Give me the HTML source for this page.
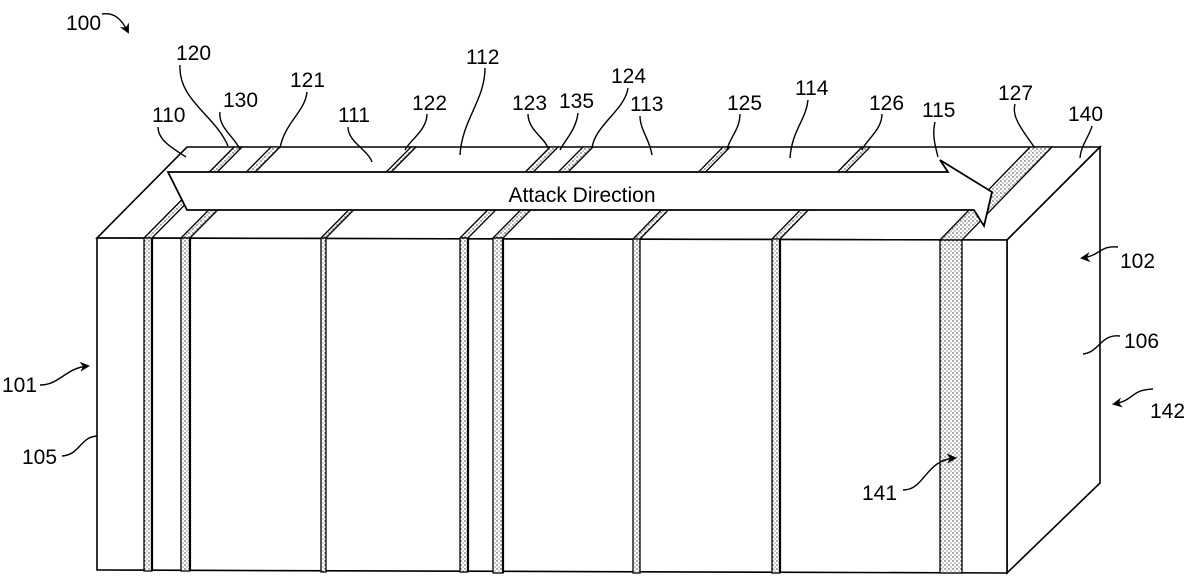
<!DOCTYPE html>
<html><head><meta charset="utf-8"><style>
html,body{margin:0;padding:0;background:#fff;}
svg{display:block;}
text{font-family:"Liberation Sans",sans-serif;font-size:21px;fill:#000;}
</style></head><body>
<svg width="1200" height="581" viewBox="0 0 1200 581" xmlns="http://www.w3.org/2000/svg">
<defs>
<pattern id="dots" width="4" height="4" patternUnits="userSpaceOnUse">
<rect width="4" height="4" fill="#fff"/>
<circle cx="1" cy="1" r="0.7" fill="#333"/>
<circle cx="3" cy="3" r="0.6" fill="#555"/>
</pattern>
<marker id="ah" markerWidth="10" markerHeight="10" refX="8" refY="5" orient="auto" markerUnits="userSpaceOnUse">
<path d="M0,0 L10,5 L0,10 L3,5 Z" fill="#000"/>
</marker>
</defs>
<g stroke="#000" stroke-width="1.6" fill="#fff" stroke-linejoin="miter">
<polygon points="97,238 187,147 1100,147 1007,240"/>
<polygon points="1007,240 1100,147 1100,483 1007,573"/>
<polygon points="97,238 1007,240 1007,573 97,570"/>
</g>
<g stroke="#000" stroke-width="1.3" fill="url(#dots)">
<polygon points="144,238 152,238 242,147 234,147"/>
<polygon points="181,238 190,238 280,147 271,147"/>
<polygon points="321,238 326,238 416,147 411,147"/>
<polygon points="460,238 468,238 558,147 550,147"/>
<polygon points="493,238 503,238 593,147 583,147"/>
<polygon points="633,239 640,239 730,147 723,147"/>
<polygon points="772,239 780,239 870,147 862,147"/>
<polygon points="940,240 962,240 1052,147 1030,147"/>
</g>
<g stroke="#000" stroke-width="1.3" fill="url(#dots)">
<rect x="144" y="238" width="8" height="333"/>
<rect x="181" y="238" width="9" height="333"/>
<rect x="321" y="238" width="5" height="334"/>
<rect x="460" y="238" width="8" height="334"/>
<rect x="493" y="238" width="10" height="335"/>
<rect x="633" y="239" width="7" height="334"/>
<rect x="772" y="239" width="8" height="334"/>
<rect x="940" y="240" width="22" height="333"/>
</g>
<g stroke="#000" stroke-width="2.2">
<line x1="152" y1="238" x2="152" y2="571"/><line x1="190" y1="238" x2="190" y2="571"/>
<line x1="468" y1="238" x2="468" y2="572"/><line x1="503" y1="238" x2="503" y2="573"/>
<line x1="780" y1="239" x2="780" y2="573"/>
</g>
<polygon points="168,172 948,172 940,160 992,192 984,226 974,210 187,210" fill="#fff" stroke="#000" stroke-width="1.8" stroke-linejoin="miter"/>
<text x="582" y="202" text-anchor="middle">Attack Direction</text>
<g>
<text x="66" y="30">100</text>
<text x="176" y="60">120</text>
<text x="223" y="107">130</text>
<text x="290" y="87">121</text>
<text x="152" y="122">110</text>
<text x="338" y="122">111</text>
<text x="412" y="110">122</text>
<text x="466" y="64">112</text>
<text x="512" y="110">123</text>
<text x="559" y="108">135</text>
<text x="611" y="83">124</text>
<text x="630" y="111">113</text>
<text x="727" y="110">125</text>
<text x="795" y="95">114</text>
<text x="869" y="110">126</text>
<text x="922" y="117">115</text>
<text x="998" y="100">127</text>
<text x="1068" y="121">140</text>
<text x="1120" y="268">102</text>
<text x="1124" y="348">106</text>
<text x="1150" y="418">142</text>
<text x="2" y="392">101</text>
<text x="22" y="464">105</text>
<text x="862" y="500">141</text>
</g>
<g stroke="#000" stroke-width="1.4" fill="none">
<path d="M102,14 C115,12 122,20 128,32" marker-end="url(#ah)"/>
<path d="M180,65 C178,100 215,115 228,146"/>
<path d="M220,112 C218,128 236,138 240,150"/>
<path d="M307,92 C305,112 285,122 280,148"/>
<path d="M158,127 C158,140 172,148 186,157"/>
<path d="M348,127 C348,142 368,150 372,162"/>
<path d="M427,114 C427,130 410,140 405,150"/>
<path d="M485,68 C485,100 462,120 460,155"/>
<path d="M528,114 C528,130 545,138 548,148"/>
<path d="M578,113 C576,130 565,140 560,150"/>
<path d="M628,88 C625,110 595,125 592,148"/>
<path d="M640,116 C640,130 650,140 652,155"/>
<path d="M740,114 C740,130 728,140 727,150"/>
<path d="M808,100 C806,120 792,130 790,158"/>
<path d="M882,114 C882,130 866,140 862,150"/>
<path d="M935,122 C932,135 935,145 938,157"/>
<path d="M1015,104 C1012,115 1018,125 1035,148"/>
<path d="M1092,126 C1090,135 1081,145 1080,158"/>
<path d="M1118,247 C1100,245 1100,256 1082,258" marker-end="url(#ah)"/>
<path d="M1120,336 C1100,334 1100,352 1083,354"/>
<path d="M1153,389 C1130,390 1135,400 1114,404" marker-end="url(#ah)"/>
<path d="M40,385 C60,385 65,368 88,366" marker-end="url(#ah)"/>
<path d="M62,456 C80,455 80,437 97,436"/>
<path d="M903,490 C925,490 925,460 955,458" marker-end="url(#ah)"/>
</g>
</svg>
</body></html>
